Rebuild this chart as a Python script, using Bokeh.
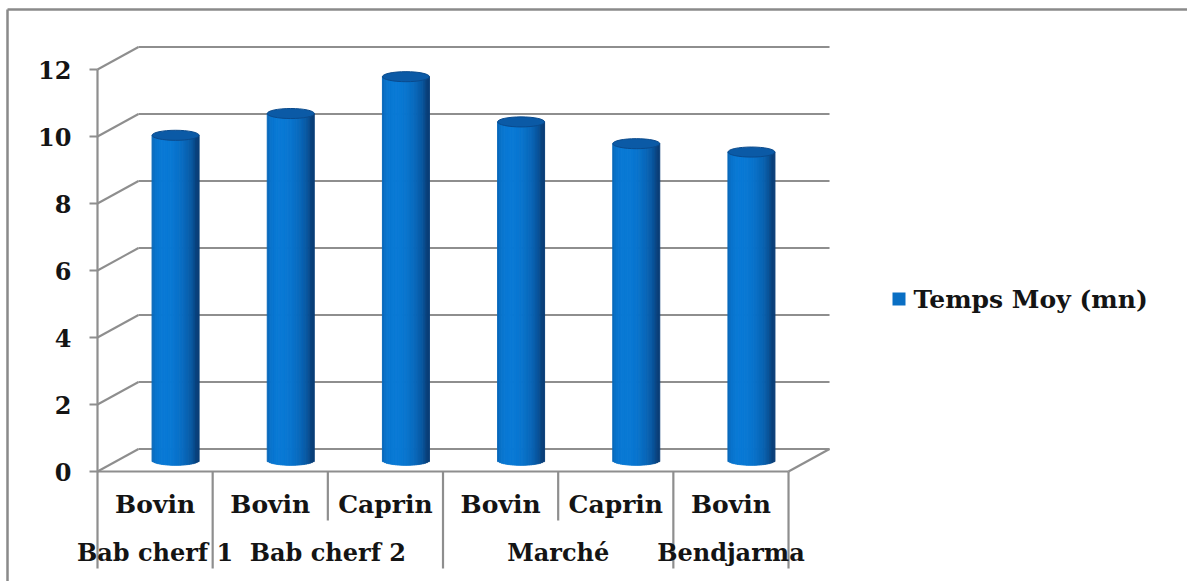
import math
from bokeh.plotting import figure
from bokeh.models import Range1d
from bokeh.core.properties import value
from bokeh.embed import file_html
from bokeh.resources import INLINE

# ---- data -------------------------------------------------------------
species = ["Bovin", "Bovin", "Caprin", "Bovin", "Caprin", "Bovin"]
sites = ["Bab cherf 1", "Bab cherf 2", "Marché", "Bendjarma"]
site_sizes = [1, 2, 2, 1]
temps_moy = [9.7, 10.35, 11.45, 10.1, 9.45, 9.2]
y_ticks = [0, 2, 4, 6, 8, 10, 12]
series_name = "Temps Moy (mn)"

# ---- geometry (category units across, minutes up) ---------------------
W, H = 1187, 581
PX_CAT = 115.17          # pixels per category
PX_VAL = 33.5            # pixels per minute
ORIG_X, ORIG_Y = 97, 471 # front-left floor corner on the canvas
DX = 41 / PX_CAT         # depth offset of the back wall
DY = 22.5 / PX_VAL
N = len(species)


def px_x(px):
    return (px - ORIG_X) / PX_CAT


def px_y(py):
    return (ORIG_Y - py) / PX_VAL


p = figure(width=W, height=H,
           x_range=Range1d(px_x(0), px_x(W)),
           y_range=Range1d(px_y(H), px_y(0)),
           x_axis_type=None, y_axis_type=None,
           toolbar_location=None, tools="",
           output_backend="svg", min_border=0,
           outline_line_color=None,
           background_fill_color="white", border_fill_color="white")

GRID = "#8e8e8e"
FONT = value("DejaVu Serif")
TXT = "#141414"

# outer chart frame (top and left edges)
p.segment(x0=[px_x(7), px_x(7)], y0=[px_y(9), px_y(9)],
          x1=[px_x(W), px_x(7)], y1=[px_y(9), px_y(H)],
          line_color="#8a8a8a", line_width=2.5)

# back wall gridlines, side wall diagonals and tick marks
top = max(y_ticks)
p.segment(x0=[DX] * len(y_ticks), y0=[t + DY for t in y_ticks],
          x1=[N + DX] * len(y_ticks), y1=[t + DY for t in y_ticks],
          line_color=GRID, line_width=2.2)
p.segment(x0=[0] * len(y_ticks), y0=y_ticks,
          x1=[DX] * len(y_ticks), y1=[t + DY for t in y_ticks],
          line_color=GRID, line_width=2.0)
p.segment(x0=[px_x(89)] * len(y_ticks), y0=y_ticks,
          x1=[0] * len(y_ticks), y1=y_ticks,
          line_color=GRID, line_width=2.0)

# floor: front edge and right diagonal
p.segment(x0=[0, N], y0=[0, 0], x1=[N, N + DX], y1=[0, DY],
          line_color=GRID, line_width=2.2)

# value axis line, continued down as the first category separator
full_drop = px_y(568)
short_drop = px_y(520)
p.segment(x0=[0], y0=[top], x1=[0], y1=[full_drop],
          line_color=GRID, line_width=2.2)

# category separators: long ones between sites, short ones inside a site
bounds = [0]
for s in site_sizes:
    bounds.append(bounds[-1] + s)
sep_x, sep_y = [], []
for i in range(1, N + 1):
    sep_x.append(i)
    sep_y.append(full_drop if i in bounds else short_drop)
p.segment(x0=sep_x, y0=[0] * len(sep_x), x1=sep_x, y1=sep_y,
          line_color=GRID, line_width=2.2)

# value tick labels
p.text(x=[px_x(71)] * len(y_ticks), y=y_ticks, text=[str(t) for t in y_ticks],
       text_font=FONT, text_font_style="bold", text_font_size="24px",
       text_align="right", text_baseline="middle", text_color=TXT)

# species labels and site labels
p.text(x=[i + 0.5 for i in range(N)], y=[px_y(504)] * N, text=species,
       text_font=FONT, text_font_style="bold", text_font_size="25px",
       text_align="center", text_baseline="middle", text_color=TXT)
site_x = [(bounds[k] + bounds[k + 1]) / 2 for k in range(len(sites))]
p.text(x=site_x, y=[px_y(552)] * len(sites), text=sites,
       text_font=FONT, text_font_style="bold", text_font_size="24px",
       text_align="center", text_baseline="middle", text_color=TXT)

# ---- cylinders ---------------------------------------------------------
DARK = (9, 62, 120)
BRIGHT = (10, 122, 214)
STRIPS = 26
R = 0.204                 # cylinder radius across (category units)
EH = 0.30                 # ellipse height (minutes)
base = DY / 2


def shade(t):
    theta = math.asin(max(-1.0, min(1.0, t)))
    light = max(0.0, math.cos(theta + 0.45)) ** 0.8
    c = [int(DARK[j] + (BRIGHT[j] - DARK[j]) * light) for j in range(3)]
    return "#%02x%02x%02x" % tuple(c)


ql, qr, qb, qt, qc = [], [], [], [], []
cx_list, ctop = [], []
for i, v in enumerate(temps_moy):
    cx = i + 0.5 + DX / 2
    y_top = v + base
    cx_list.append(cx)
    ctop.append(y_top)
    for k in range(STRIPS):
        a = cx - R + 2 * R * k / STRIPS
        b = cx - R + 2 * R * (k + 1) / STRIPS
        t = ((a + b) / 2 - cx) / R
        ql.append(a)
        qr.append(b)
        qb.append(base - EH / 2 * math.sqrt(max(0.0, 1 - t * t)))
        qt.append(y_top)
        qc.append(shade(t))

p.quad(left=ql, right=qr, bottom=qb, top=qt, fill_color=qc,
       line_color=qc, line_width=1)
p.ellipse(x=cx_list, y=ctop, width=2 * R, height=EH,
          fill_color="#0b5aa6", line_color="#0a4a8c", line_width=1)

# ---- legend ------------------------------------------------------------
p.quad(left=[px_x(892)], right=[px_x(905)], bottom=[px_y(305)], top=[px_y(292)],
       fill_color="#0a6fc4", line_color=None)
p.text(x=[px_x(913)], y=[px_y(299)], text=[series_name],
       text_font=FONT, text_font_style="bold", text_font_size="25px",
       text_align="left", text_baseline="middle", text_color=TXT)

open("out.html", "w").write(file_html(p, INLINE))
